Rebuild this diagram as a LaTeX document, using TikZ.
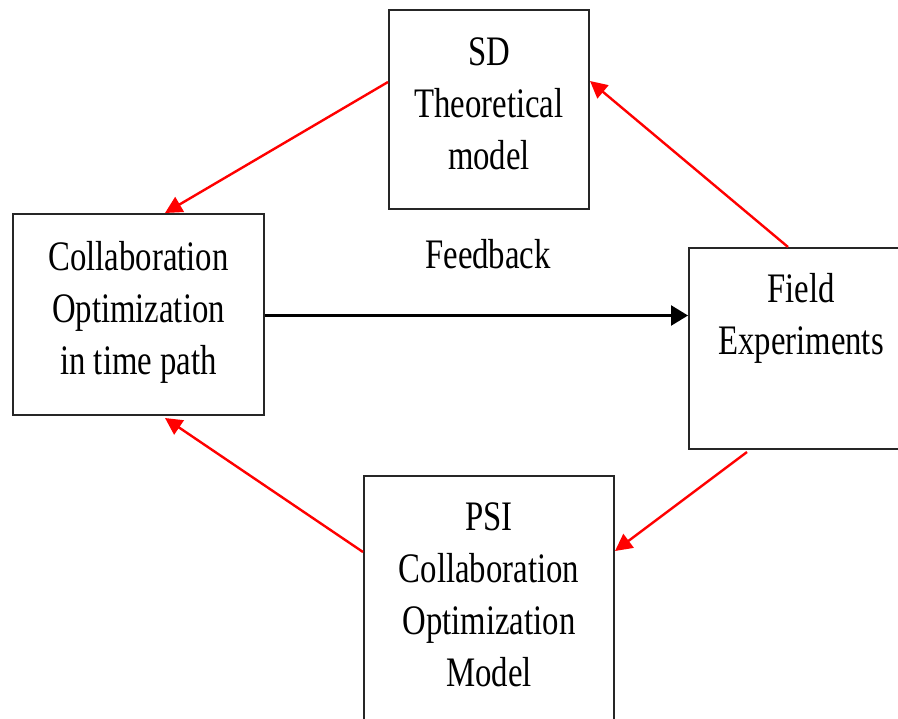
\documentclass[tikz,border=0pt]{standalone}
\usepackage{fontspec}
\setmainfont[FakeStretch=0.78]{Liberation Serif}
\usepackage{xcolor}
\definecolor{arrowRed}{HTML}{FF0000}
\usepackage{tikz}
\usetikzlibrary{calc}
\usetikzlibrary{arrows.meta}
\tikzset{
    box/.style={draw=black!85, line width=1pt, inner sep=0pt},
    boxtext/.style={anchor=north, align=center, inner sep=0pt},
    redArrow/.style={draw=arrowRed, line width=1.2pt, -{Triangle[length=8.5pt,width=8.5pt]}},
    blackArrow/.style={draw=black, line width=1.3pt, -{Triangle[length=8.5pt,width=10pt]}}
}

\begin{document}
\begin{tikzpicture}[x=0.5pt, y=-0.5pt, every node/.style={font=\fontsize{21}{26}\selectfont}]
  % page frame (pixels of the reference)
  \path[use as bounding box, clip] (0,0) rectangle (898,718);

  % boxes
  \node[box, minimum width=100pt, minimum height=99.5pt]  (sd)     at (489,109.5) {};
  \node[box, minimum width=125.5pt, minimum height=100.5pt] (collab) at (138.5,314.5) {};
  \node[box, minimum width=112pt, minimum height=100.5pt] (field)  at (801,348.5) {};
  \node[box, minimum width=125pt, minimum height=132pt]   (psi)    at (489,608) {};

  % texts (top aligned in the boxes)
  \node[boxtext] (sdtxt)     at ($(sd.north)+(0,28)$)     {SD\\Theoretical\\model};
  \node[boxtext] (collabtxt) at ($(collab.north)+(0,28)$) {Collaboration\\Optimization\\in time path};
  \node[boxtext] (fieldtxt)  at ($(field.north)+(0,26)$)  {Field\\Experiments};
  \node[boxtext] (psitxt)    at ($(psi.north)+(0,27)$)    {PSI\\Collaboration\\Optimization\\Model};

  \node (fb) at (488,254) {Feedback};

  % cycle of red arrows
  \draw[redArrow] ($(sd.north west)+(0,73)$) -- ($(collab.north west)+(153,0)$);
  \draw[redArrow] ($(field.north west)+(100,0)$) -- ($(sd.north east)+(0,72)$);
  \draw[redArrow] ($(field.south west)+(59,2)$) -- ($(psi.north east)+(0,76)$);
  \draw[redArrow] ($(psi.north west)+(0,77)$) -- ($(collab.south west)+(153,2)$);

  % feedback arrow
  \coordinate (fbstart) at ($(collab.east)+(0,1)$);
  \draw[blackArrow] (fbstart) -- (fbstart -| field.west);
\end{tikzpicture}
\end{document}
